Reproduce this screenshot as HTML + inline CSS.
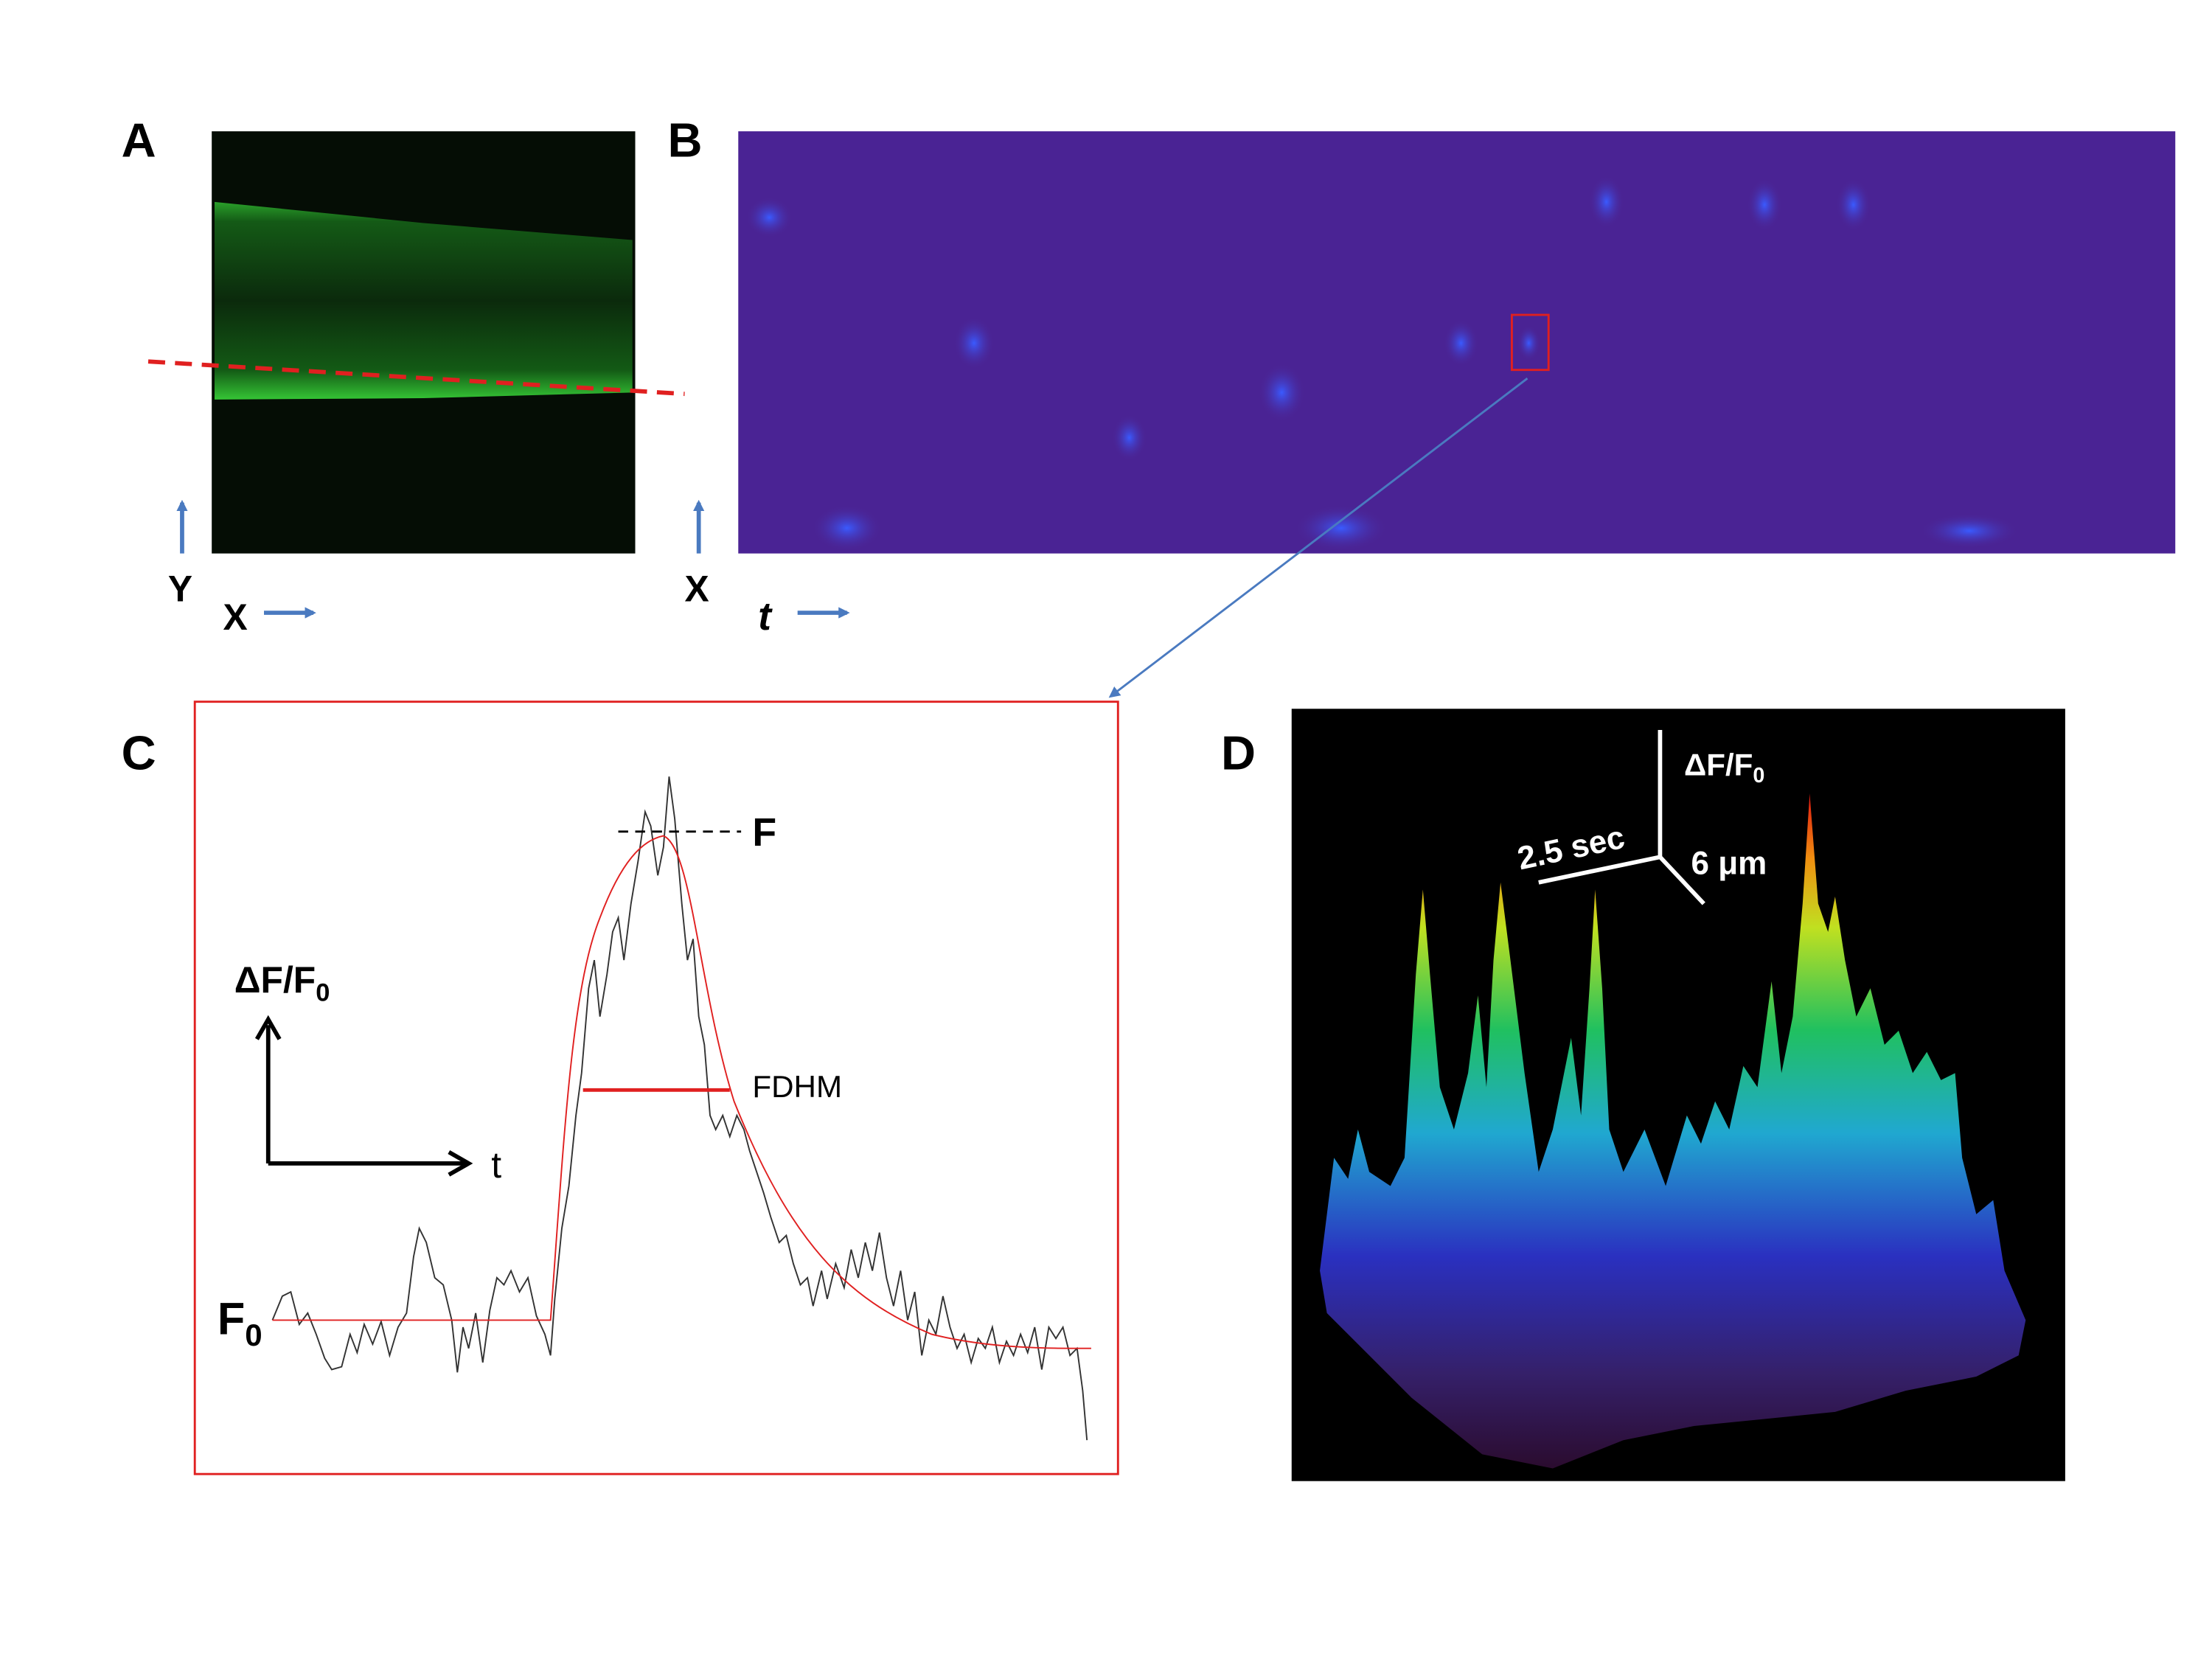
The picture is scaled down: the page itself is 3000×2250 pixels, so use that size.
<!DOCTYPE html>
<html><head><meta charset="utf-8"><style>
html,body{margin:0;padding:0;background:#fff}
svg{display:block}
text{font-family:"Liberation Sans",sans-serif}
</style></head><body>
<svg width="3000" height="2250" viewBox="0 0 1567 1175" preserveAspectRatio="none" xmlns="http://www.w3.org/2000/svg">
<defs>
<linearGradient id="hg" gradientUnits="userSpaceOnUse" x1="0" y1="1045" x2="0" y2="560">
<stop offset="0" stop-color="#2a0a2a"/>
<stop offset="0.15" stop-color="#35206a"/>
<stop offset="0.32" stop-color="#2a30c0"/>
<stop offset="0.5" stop-color="#20a8d0"/>
<stop offset="0.65" stop-color="#20c060"/>
<stop offset="0.8" stop-color="#c0e020"/>
<stop offset="0.9" stop-color="#f09010"/>
<stop offset="1" stop-color="#e01010"/>
</linearGradient>
<linearGradient id="band" x1="0" y1="0" x2="0" y2="1">
<stop offset="0" stop-color="#2aa02a"/>
<stop offset="0.1" stop-color="#145a16"/>
<stop offset="0.5" stop-color="#0b2a0c"/>
<stop offset="0.85" stop-color="#135a15"/>
<stop offset="1" stop-color="#35c535"/>
</linearGradient>
<radialGradient id="spot"><stop offset="0" stop-color="#3a5aff"/><stop offset="1" stop-color="#4a2a9a" stop-opacity="0"/></radialGradient>
<marker id="ab" markerWidth="8" markerHeight="8" refX="6" refY="4" orient="auto" markerUnits="userSpaceOnUse"><path d="M0,0 L8,4 L0,8 Z" fill="#4a7ac0"/></marker>
</defs>

<text x="86" y="111" font-size="34" font-weight="bold">A</text>
<rect x="150" y="93" width="300" height="299" fill="#050d05"/>
<path d="M152,143 L300,158 L448,170 L448,278 L300,282 L152,283 Z" fill="url(#band)"/>
<line x1="105" y1="256" x2="485" y2="279" stroke="#e02020" stroke-width="3" stroke-dasharray="12,7"/>
<line x1="129" y1="392" x2="129" y2="356" stroke="#4a7ac0" stroke-width="3" marker-end="url(#ab)"/>
<text x="119" y="426" font-size="26" font-weight="bold">Y</text>
<text x="158" y="446" font-size="26" font-weight="bold">X</text>
<line x1="187" y1="434" x2="222" y2="434" stroke="#4a7ac0" stroke-width="3" marker-end="url(#ab)"/>

<text x="473" y="111" font-size="34" font-weight="bold">B</text>
<rect x="523" y="93" width="1018" height="299" fill="#4a2394"/>
<g fill="url(#spot)">
<ellipse cx="545" cy="154" rx="16" ry="14"/>
<ellipse cx="1138" cy="143" rx="12" ry="18"/>
<ellipse cx="1250" cy="145" rx="12" ry="18"/>
<ellipse cx="1313" cy="145" rx="12" ry="18"/>
<ellipse cx="690" cy="243" rx="14" ry="18"/>
<ellipse cx="1035" cy="243" rx="12" ry="16"/>
<ellipse cx="908" cy="278" rx="16" ry="20"/>
<ellipse cx="600" cy="374" rx="24" ry="16"/>
<ellipse cx="950" cy="374" rx="32" ry="16"/>
<ellipse cx="1395" cy="376" rx="34" ry="12"/>
<ellipse cx="800" cy="310" rx="12" ry="16"/>
<ellipse cx="1083" cy="243" rx="8" ry="12"/>
</g>
<rect x="1071" y="223" width="26" height="39" fill="none" stroke="#e02020" stroke-width="1.5"/>
<line x1="495" y1="392" x2="495" y2="356" stroke="#4a7ac0" stroke-width="3" marker-end="url(#ab)"/>
<text x="485" y="426" font-size="26" font-weight="bold">X</text>
<text x="537" y="446" font-size="28" font-weight="bold" font-style="italic">t</text>
<line x1="565" y1="434" x2="600" y2="434" stroke="#4a7ac0" stroke-width="3" marker-end="url(#ab)"/>
<line x1="1082" y1="268" x2="787" y2="493" stroke="#4a7ac0" stroke-width="1.5" marker-end="url(#ab)"/>

<text x="86" y="545" font-size="34" font-weight="bold">C</text>
<rect x="138" y="497" width="654" height="547" fill="none" stroke="#e02020" stroke-width="1.5"/>
<polyline fill="none" stroke="#333" stroke-width="1" points="193,935 200,918 206,915 212,938 218,930 224,945 230,962 235,970 242,968 248,945 253,958 258,938 264,952 270,936 276,960 282,940 288,930 293,890 297,870 302,880 308,905 314,910 320,935 324,972 328,940 332,955 337,930 342,965 347,928 352,905 357,910 362,900 368,915 374,905 380,932 386,945 390,960 393,920 398,870 403,840 408,790 412,760 417,700 421,680 425,720 430,690 434,660 438,650 442,680 447,640 452,610 457,575 461,585 466,620 470,600 474,550 478,580 483,640 487,680 491,665 495,720 499,740 503,790 507,800 512,790 517,805 522,790 527,800 531,815 536,830 541,845 546,862 552,880 557,875 562,895 567,910 572,905 576,925 582,900 586,920 592,895 598,912 603,885 608,905 613,880 618,900 623,873 628,905 633,925 638,900 643,935 648,915 653,960 658,935 663,945 668,918 673,940 678,955 683,945 688,965 693,948 698,955 703,940 708,965 713,950 718,960 723,945 728,958 733,940 738,970 743,940 748,948 753,940 758,960 763,955 767,985 770,1020"/>
<path d="M193,935 L390,935 C400,800 405,700 425,650 C440,610 455,595 470,592 C490,600 495,700 520,780 C560,880 600,920 660,945 C700,955 740,955 773,955" fill="none" stroke="#e02020" stroke-width="1"/>
<line x1="438" y1="589" x2="525" y2="589" stroke="#000" stroke-width="1.5" stroke-dasharray="7,5"/>
<text x="533" y="599" font-size="28" font-weight="bold">F</text>
<line x1="413" y1="772" x2="517" y2="772" stroke="#e02020" stroke-width="2.5"/>
<text x="533" y="777" font-size="22">FDHM</text>
<text x="166" y="703" font-size="26" font-weight="bold">ΔF/F<tspan font-size="18" dy="6">0</tspan></text>
<line x1="190" y1="824" x2="190" y2="726" stroke="#000" stroke-width="3"/>
<path d="M182,736 L190,722 L198,736" fill="none" stroke="#000" stroke-width="3"/>
<line x1="190" y1="824" x2="330" y2="824" stroke="#000" stroke-width="3"/>
<path d="M318,816 L332,824 L318,832" fill="none" stroke="#000" stroke-width="3"/>
<text x="348" y="834" font-size="26">t</text>
<text x="154" y="945" font-size="32" font-weight="bold">F<tspan font-size="22" dy="8">0</tspan></text>

<text x="865" y="545" font-size="34" font-weight="bold">D</text>
<rect x="915" y="502" width="548" height="547" fill="#000"/>
<path fill="url(#hg)" d="M935,900 L945,820 L955,835 L962,800 L970,830 L985,840 L995,820 L1003,690 L1008,630 L1013,690 L1020,770 L1030,800 L1040,760 L1047,705 L1053,770 L1058,680 L1063,625 L1070,680 L1080,760 L1090,830 L1100,800 L1108,760 L1113,735 L1120,790 L1126,700 L1130,630 L1135,700 L1140,800 L1150,830 L1165,800 L1180,840 L1195,790 L1205,810 L1215,780 L1225,800 L1235,755 L1245,770 L1255,695 L1262,760 L1270,720 L1277,640 L1282,562 L1288,640 L1295,660 L1300,635 L1307,680 L1315,720 L1325,700 L1335,740 L1345,730 L1355,760 L1365,745 L1375,765 L1385,760 L1390,820 L1400,860 L1412,850 L1420,900 L1435,935 L1430,960 L1400,975 L1350,985 L1300,1000 L1250,1005 L1200,1010 L1150,1020 L1100,1040 L1050,1030 L1000,990 L960,950 L940,930 Z"/>
<g stroke="#fff" stroke-width="3" fill="none">
<line x1="1176" y1="517" x2="1176" y2="607"/>
<line x1="1176" y1="607" x2="1090" y2="625"/>
<line x1="1176" y1="607" x2="1207" y2="640"/>
</g>
<text x="1193" y="549" font-size="22" font-weight="bold" fill="#fff">ΔF/F<tspan font-size="15" dy="5">0</tspan></text>
<text x="1077" y="616" font-size="23" font-weight="bold" fill="#fff" transform="rotate(-12 1077 616)">2.5 sec</text>
<text x="1198" y="619" font-size="23" font-weight="bold" fill="#fff">6 μm</text>
</svg>
</body></html>
